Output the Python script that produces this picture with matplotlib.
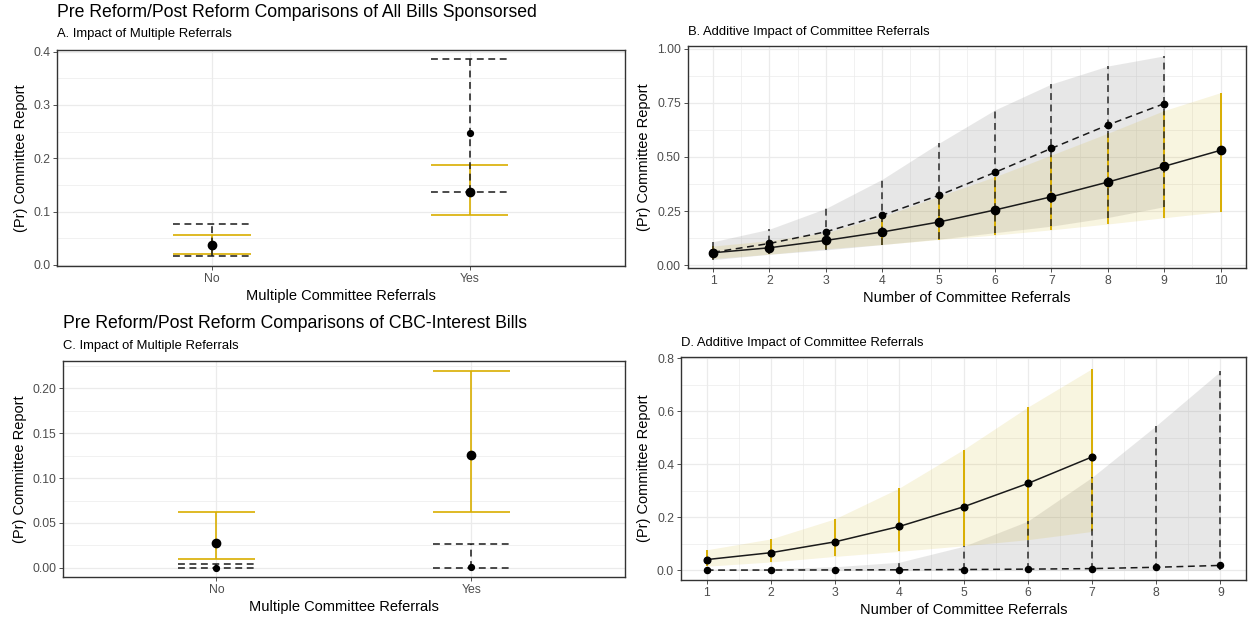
import matplotlib
matplotlib.use("Agg")
import matplotlib.pyplot as plt
import numpy as np
from matplotlib.ticker import MultipleLocator, FixedLocator, FormatStrFormatter

plt.rcParams['font.family'] = ['Liberation Sans', 'DejaVu Sans']

# ---- data ----
# panel A: all bills, single vs multiple referrals
a_categories = ["No", "Yes"]
a_post = [0.0366, 0.1366]
a_post_lo = [0.021, 0.0944]
a_post_hi = [0.057, 0.188]
a_pre = [0.035, 0.2466]
a_pre_lo = [0.0174, 0.1366]
a_pre_hi = [0.0776, 0.386]

# panel B: all bills, number of referrals
b_post_x = [1, 2, 3, 4, 5, 6, 7, 8, 9, 10]
b_post = [0.057, 0.080, 0.114, 0.153, 0.199, 0.255, 0.316, 0.384, 0.457, 0.531]
b_post_lo = [0.030, 0.050, 0.075, 0.095, 0.118, 0.139, 0.163, 0.190, 0.219, 0.247]
b_post_hi = [0.088, 0.113, 0.150, 0.224, 0.318, 0.409, 0.509, 0.610, 0.715, 0.798]
b_pre_x = [1, 2, 3, 4, 5, 6, 7, 8, 9]
b_pre = [0.059, 0.100, 0.154, 0.231, 0.322, 0.429, 0.540, 0.648, 0.747]
b_pre_lo = [0.025, 0.050, 0.070, 0.095, 0.120, 0.150, 0.180, 0.220, 0.270]
b_pre_hi = [0.108, 0.166, 0.262, 0.397, 0.563, 0.718, 0.838, 0.921, 0.968]

# panel C: CBC-interest bills, single vs multiple referrals
c_categories = ["No", "Yes"]
c_post = [0.0271, 0.1253]
c_post_lo = [0.010, 0.0621]
c_post_hi = [0.0621, 0.220]
c_pre = [0.0, 0.0005]
c_pre_lo = [0.0, 0.0]
c_pre_hi = [0.0037, 0.026]

# panel D: CBC-interest bills, number of referrals
d_post_x = [1, 2, 3, 4, 5, 6, 7]
d_post = [0.040, 0.066, 0.107, 0.165, 0.239, 0.327, 0.427]
d_post_lo = [0.015, 0.031, 0.052, 0.071, 0.092, 0.115, 0.146]
d_post_hi = [0.077, 0.118, 0.194, 0.310, 0.455, 0.615, 0.760]
d_pre_x = [1, 2, 3, 4, 5, 6, 7, 8, 9]
d_pre = [0.0003, 0.0006, 0.001, 0.0015, 0.0025, 0.004, 0.006, 0.011, 0.018]
d_pre_lo = [0.0, 0.0, 0.0, 0.0, 0.0, 0.0, 0.0, 0.0, 0.0]
d_pre_hi = [0.003, 0.006, 0.013, 0.030, 0.090, 0.185, 0.350, 0.545, 0.750]

GOLD = '#D9AE00'
DASH = (0, (4.5, 3))
INK = '#1A1A1A'

W, H = 1249, 621
fig = plt.figure(figsize=(W / 100, H / 100), dpi=100)


def box(l, t, r, b):
    return fig.add_axes([l / W, 1 - b / H, (r - l) / W, (b - t) / H])


def style(ax):
    ax.set_facecolor('white')
    ax.grid(True, which='major', color='#EBEBEB', lw=0.9, zorder=0)
    ax.grid(True, which='minor', color='#EBEBEB', lw=0.5, zorder=0)
    ax.set_axisbelow(True)
    for s in ax.spines.values():
        s.set_color('#333333')
        s.set_linewidth(1.0)
    ax.tick_params(which='major', length=3, width=0.6, color='#333333',
                   labelcolor='#4D4D4D', labelsize=8.8, pad=2)
    ax.tick_params(which='minor', length=0)
    ax.set_ylabel("(Pr) Committee Report", fontsize=10.5, color='black', labelpad=4)


def dot_panel(ax, cats, post, post_lo, post_hi, pre, pre_lo, pre_hi, ystep):
    x = np.arange(1, len(cats) + 1)
    hw = 0.15
    ax.vlines(x, post_lo, post_hi, colors=GOLD, lw=1.2, zorder=2)
    ax.hlines(post_lo, x - hw, x + hw, colors=GOLD, lw=1.2, zorder=2)
    ax.hlines(post_hi, x - hw, x + hw, colors=GOLD, lw=1.2, zorder=2)
    ax.vlines(x, pre_lo, pre_hi, colors=INK, lw=1.1, linestyles=DASH, zorder=3)
    ax.hlines(pre_lo, x - hw, x + hw, colors=INK, lw=1.1, linestyles=DASH, zorder=3)
    ax.hlines(pre_hi, x - hw, x + hw, colors=INK, lw=1.1, linestyles=DASH, zorder=3)
    ax.plot(x, post, 'o', color='black', ms=6.0, zorder=4)
    ax.plot(x, pre, 'o', color='black', ms=4.2, zorder=5)
    ax.set_xlim(0.4, 2.6)
    ax.xaxis.set_major_locator(FixedLocator(x))
    ax.set_xticklabels(cats)
    ax.yaxis.set_major_locator(MultipleLocator(ystep))
    ax.yaxis.set_minor_locator(MultipleLocator(ystep / 2))
    ax.set_xlabel("Multiple Committee Referrals", fontsize=10.5, labelpad=3)


def line_panel(ax, post_x, post, post_lo, post_hi, pre_x, pre, pre_lo, pre_hi, post_ms, pre_ms):
    ax.fill_between(pre_x, pre_lo, pre_hi, color='#7F7F7F', alpha=0.18, lw=0, zorder=1)
    ax.fill_between(post_x, post_lo, post_hi, color='#CDAD00', alpha=0.12, lw=0, zorder=1.5)
    ax.vlines(post_x, post_lo, post_hi, colors=GOLD, lw=1.4, zorder=2)
    ax.vlines(pre_x, pre_lo, pre_hi, colors='#2A2A2A', lw=1.1, linestyles=DASH, zorder=3)
    ax.plot(post_x, post, '-', color=INK, lw=1.1, zorder=4)
    ax.plot(pre_x, pre, color=INK, lw=1.1, ls=DASH, zorder=4)
    ax.plot(post_x, post, 'o', color='black', ms=post_ms, zorder=5)
    ax.plot(pre_x, pre, 'o', color='black', ms=pre_ms, zorder=5)
    ax.xaxis.set_major_locator(MultipleLocator(1))
    ax.xaxis.set_minor_locator(MultipleLocator(0.5))
    ax.set_xlabel("Number of Committee Referrals", fontsize=10.5, labelpad=3)


# panel A
axA = box(57.3, 50, 624.5, 265.7)
style(axA)
dot_panel(axA, a_categories, a_post, a_post_lo, a_post_hi, a_pre, a_pre_lo, a_pre_hi, 0.1)
axA.set_ylim(-0.0015, 0.403)
axA.yaxis.set_major_formatter(FormatStrFormatter('%.1f'))

# panel B
axB = box(687.7, 45.7, 1246, 268.3)
style(axB)
line_panel(axB, b_post_x, b_post, b_post_lo, b_post_hi, b_pre_x, b_pre, b_pre_lo, b_pre_hi, 6.0, 4.6)
axB.set_xlim(0.55, 10.45)
axB.set_ylim(-0.015, 1.015)
axB.yaxis.set_major_locator(MultipleLocator(0.25))
axB.yaxis.set_minor_locator(MultipleLocator(0.125))
axB.yaxis.set_major_formatter(FormatStrFormatter('%.2f'))

# panel C
axC = box(63.3, 360.7, 624.5, 576.7)
style(axC)
dot_panel(axC, c_categories, c_post, c_post_lo, c_post_hi, c_pre, c_pre_lo, c_pre_hi, 0.05)
axC.set_ylim(-0.010, 0.231)
axC.yaxis.set_major_formatter(FormatStrFormatter('%.2f'))

# panel D
axD = box(681, 357.3, 1246, 580)
style(axD)
line_panel(axD, d_post_x, d_post, d_post_lo, d_post_hi, d_pre_x, d_pre, d_pre_lo, d_pre_hi, 4.8, 4.4)
axD.set_xlim(0.6, 9.4)
axD.set_ylim(-0.037, 0.803)
axD.yaxis.set_major_locator(MultipleLocator(0.2))
axD.yaxis.set_minor_locator(MultipleLocator(0.1))
axD.yaxis.set_major_formatter(FormatStrFormatter('%.1f'))

# titles
fig.text(57 / W, 1 - 12.5 / H, "Pre Reform/Post Reform Comparisons of All Bills Sponsorsed",
         fontsize=12.7, va='center', ha='left')
fig.text(57 / W, 1 - 34 / H, "A. Impact of Multiple Referrals", fontsize=9.4, va='center', ha='left')
fig.text(688 / W, 1 - 31.5 / H, "B. Additive Impact of Committee Referrals", fontsize=9.4,
         va='center', ha='left')
fig.text(63 / W, 1 - 323 / H, "Pre Reform/Post Reform Comparisons of CBC-Interest Bills",
         fontsize=12.7, va='center', ha='left')
fig.text(63 / W, 1 - 346 / H, "C. Impact of Multiple Referrals", fontsize=9.4, va='center', ha='left')
fig.text(681 / W, 1 - 343 / H, "D. Additive Impact of Committee Referrals", fontsize=9.4,
         va='center', ha='left')

fig.savefig("out.png", dpi=100)
